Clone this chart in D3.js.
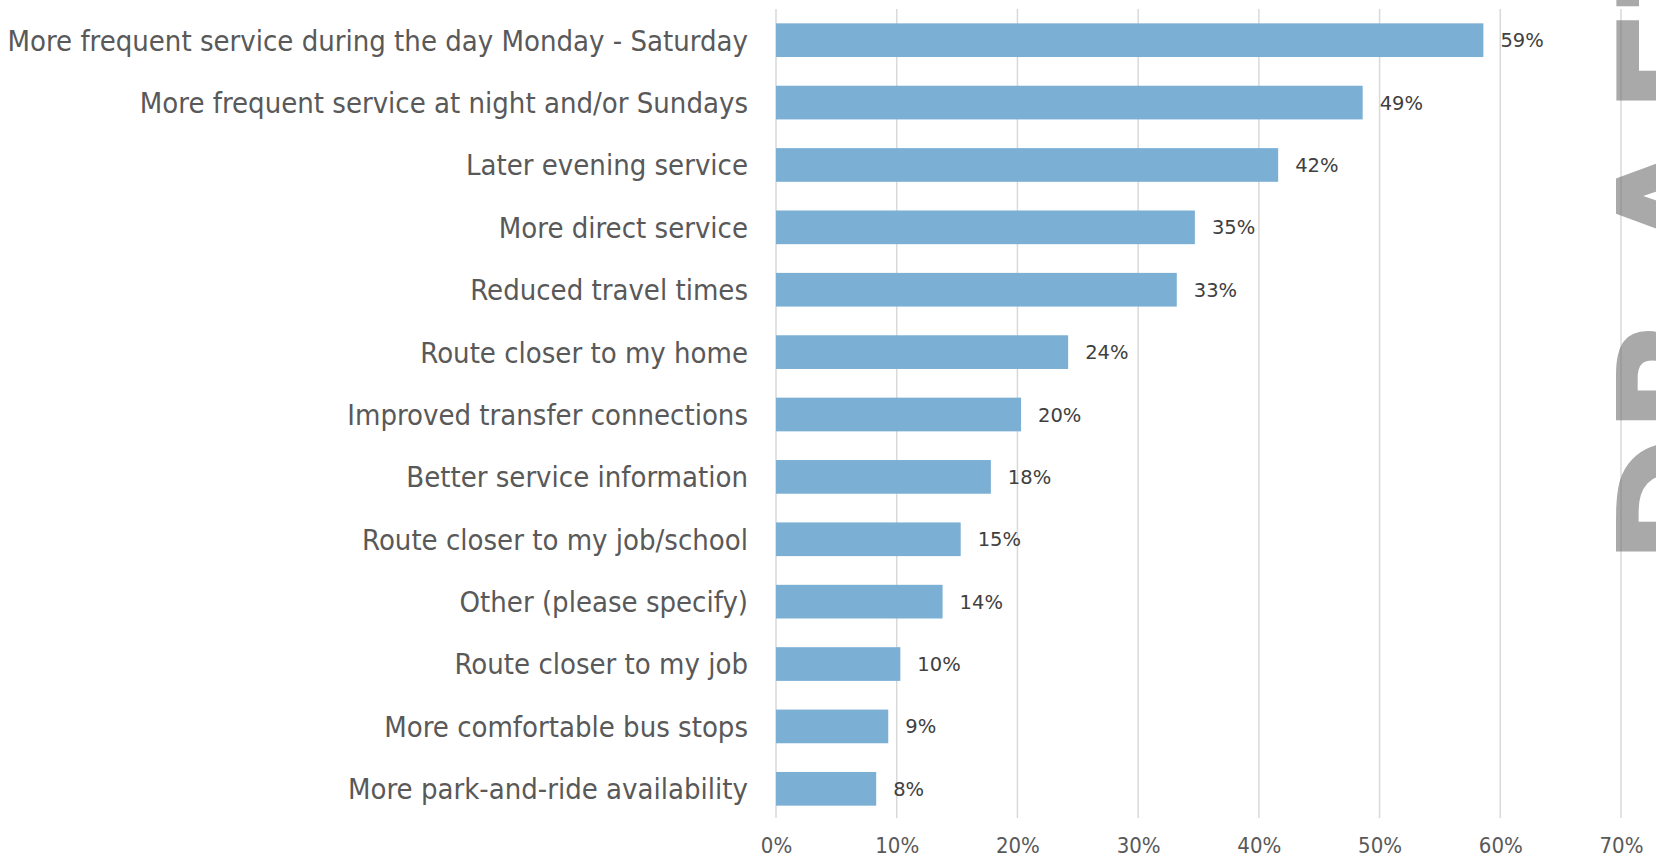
<!DOCTYPE html>
<html>
<head>
<meta charset="utf-8">
<script src="https://cdn.jsdelivr.net/npm/d3@7"></script>
<style>
  html, body { margin: 0; padding: 0; background: #fff; overflow: hidden; }
  svg { display: block; }
</style>
</head>
<body>
<svg id="chart" width="1656" height="858"></svg>
<script>
const categories = [
  "More frequent service during the day Monday - Saturday",
  "More frequent service at night and/or Sundays",
  "Later evening service",
  "More direct service",
  "Reduced travel times",
  "Route closer to my home",
  "Improved transfer connections",
  "Better service information",
  "Route closer to my job/school",
  "Other (please specify)",
  "Route closer to my job",
  "More comfortable bus stops",
  "More park-and-ride availability"
];
const values = [0.586, 0.486, 0.416, 0.347, 0.332, 0.242, 0.203, 0.178, 0.153, 0.138, 0.103, 0.093, 0.083];
const ticks = [0, 0.1, 0.2, 0.3, 0.4, 0.5, 0.6, 0.7];
const watermark = ["D", "R", "A", "F", "T"];
const watermarkShift = [0, 0, 56, 20, 0];

const svg = d3.select("#chart");
const mLeft = 776, mRight = 1621, mTop = 9, mBottom = 820;

const x = d3.scaleLinear().domain([0, 0.7]).range([mLeft, mRight]);
const y = d3.scaleBand().domain(categories).range([mTop, mBottom]).paddingInner(0.46).paddingOuter(0.23);

const catFont = "'DejaVu Sans Condensed', 'Liberation Sans Narrow', sans-serif";

// gridlines
svg.append("g").selectAll("line").data(ticks).join("line")
  .attr("x1", d => x(d)).attr("x2", d => x(d))
  .attr("y1", mTop).attr("y2", mBottom - 2)
  .attr("stroke", "#d9d9d9").attr("stroke-width", 1.5);

// bars
svg.append("g").selectAll("rect").data(values).join("rect")
  .attr("x", x(0)).attr("y", (d, i) => y(categories[i]))
  .attr("width", d => x(d) - x(0)).attr("height", y.bandwidth())
  .attr("fill", "#7bafd4");

// data labels
svg.append("g").selectAll("text").data(values).join("text")
  .attr("x", d => x(d) + 17).attr("y", (d, i) => y(categories[i]) + y.bandwidth() / 2)
  .attr("dy", "0.36em")
  .attr("font-family", "'DejaVu Sans', sans-serif").attr("font-size", 19.5)
  .attr("fill", "#404040")
  .text(d => d3.format(".0%")(d));

// category axis labels
const yAxis = d3.axisLeft(y).tickSize(0).tickPadding(28);
const gy = svg.append("g").attr("transform", `translate(${mLeft},0)`).call(yAxis);
gy.select(".domain").remove();
gy.selectAll("text").attr("font-family", catFont).attr("font-size", 29).attr("fill", "#595959").attr("dy", "0.36em");

// x axis labels
const xAxis = d3.axisBottom(x).tickValues(ticks).tickFormat(d3.format(".0%")).tickSize(0).tickPadding(0);
const gx = svg.append("g").attr("transform", `translate(0,${845})`).call(xAxis);
gx.select(".domain").remove();
gx.selectAll("text").attr("font-family", catFont).attr("font-size", 22).attr("fill", "#595959").attr("dy", "0.36em");

// watermark
const wm = svg.append("text")
  .attr("transform", "translate(1732,566) rotate(-90)")
  .attr("font-family", "'DejaVu Sans', sans-serif").attr("font-weight", "bold")
  .attr("font-size", 158)
  .attr("fill", "#707070").attr("fill-opacity", 0.6);
wm.selectAll("tspan").data(watermark).join("tspan")
  .attr("dx", (d, i) => watermarkShift[i])
  .text(d => d);
</script>
</body>
</html>
